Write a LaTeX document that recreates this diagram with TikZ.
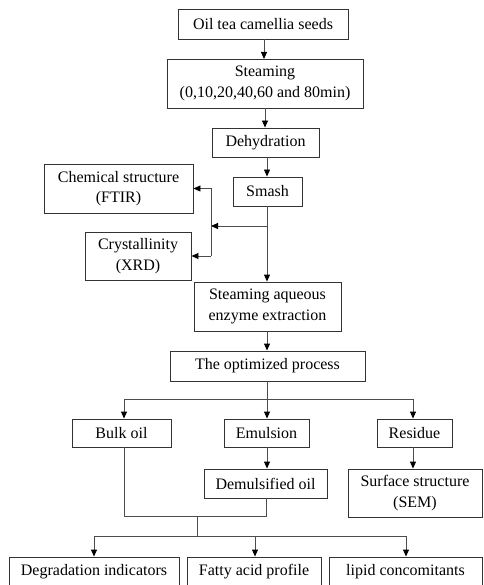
\documentclass[tikz,border=0pt]{standalone}
\usepackage{fontspec}
\setmainfont{Liberation Serif}
\usetikzlibrary{arrows.meta,calc}
\begin{document}
\begin{tikzpicture}[x=1pt,y=-1pt,
  bx/.style={draw=black!80,line width=0.9pt,inner sep=0pt,align=center,
    font=\fontsize{16}{20.5}\selectfont,text=black},
  ln/.style={draw=black!70,line width=0.9pt},
  ar/.style={ln,-{Triangle[length=7pt,width=6pt,color=black]}}]
\clip (0,0) rectangle (483,585);
\fill[white] (0,0) rectangle (483,585);
% boxes
\node[bx,minimum width=170,minimum height=30] (seeds) at (263,24) {Oil tea camellia seeds};
\node[bx,minimum width=196,minimum height=49] (steam) at (265,83.5) {Steaming\\(0,10,20,40,60 and 80min)};
\node[bx,minimum width=107,minimum height=29] (dehyd) at (265.5,142.5) {Dehydration};
\node[bx,minimum width=69,minimum height=29] (smash) at (267.5,191.5) {Smash};
\node[bx,minimum width=149,minimum height=49] (chem) at (118.5,188.5) {Chemical structure\\(FTIR)};
\node[bx,minimum width=106,minimum height=48] (cryst) at (138,256) {Crystallinity\\(XRD)};
\node[bx,minimum width=147,minimum height=49] (saee) at (267.5,306.5) {Steaming aqueous\\enzyme extraction};
\node[bx,minimum width=195,minimum height=30] (opt) at (267.5,366) {The optimized process};
\node[bx,minimum width=99,minimum height=28] (bulk) at (121.5,433) {Bulk oil};
\node[bx,minimum width=85,minimum height=28] (emul) at (266.5,433) {Emulsion};
\node[bx,minimum width=75,minimum height=28] (resid) at (414.5,433) {Residue};
\node[bx,minimum width=123,minimum height=29] (demul) at (265.5,483.5) {Demulsified oil};
\node[bx,minimum width=134,minimum height=48] (sem) at (415,493) {Surface structure\\(SEM)};
\node[bx,minimum width=170,minimum height=30] (deg) at (94,572) {Degradation indicators};
\node[bx,minimum width=134,minimum height=30] (fatty) at (254,572) {Fatty acid profile};
\node[bx,minimum width=153,minimum height=30] (lipid) at (405.5,572) {lipid concomitants};
% coordinates
\coordinate (sj) at (267,226);
\coordinate (vj) at (211,226);
\coordinate (vt) at (211,188.5);
\coordinate (vb) at (211,256);
\coordinate (oj) at (267,399);
\coordinate (ol) at (124,399);
\coordinate (or) at (413,399);
\coordinate (bb) at (124,516);
\coordinate (db) at (266,516);
\coordinate (mj) at (197,516);
\coordinate (mb) at (197,536);
\coordinate (ml) at (94,536);
\coordinate (mm) at (255,536);
\coordinate (mr) at (406,536);
% connectors
\draw[ar] (seeds.south -| 264,0) -- (264,59);
\draw[ar] (steam.south -| 265,0) -- (dehyd.north -| 265,0);
\draw[ar] (dehyd.south -| 267,0) -- (smash.north -| 267,0);
\draw[ar] (smash.south -| 267,0) -- (saee.north -| 267,0);
\draw[ar] (sj) -- (vj);
\draw[ln] (vt) -- (vb);
\draw[ar] (vt) -- (chem.east |- vt);
\draw[ar] (vb) -- (cryst.east |- vb);
\draw[ar] (saee.south -| 267,0) -- (opt.north -| 267,0);
\draw[ln] (opt.south -| oj) -- (oj);
\draw[ln] (ol) -- (or);
\draw[ar] (ol) -- (bulk.north -| ol);
\draw[ar] (oj) -- (emul.north -| oj);
\draw[ar] (or) -- (resid.north -| or);
\draw[ar] (emul.south -| 267,0) -- (demul.north -| 267,0);
\draw[ar] (resid.south -| or) -- (sem.north -| or);
\draw[ln] (bulk.south -| bb) -- (bb) -- (db) -- (demul.south -| db);
\draw[ln] (mj) -- (mb);
\draw[ln] (ml) -- (mr);
\draw[ar] (ml) -- (deg.north -| ml);
\draw[ar] (mm) -- (fatty.north -| mm);
\draw[ar] (mr) -- (lipid.north -| mr);
\end{tikzpicture}
\end{document}
